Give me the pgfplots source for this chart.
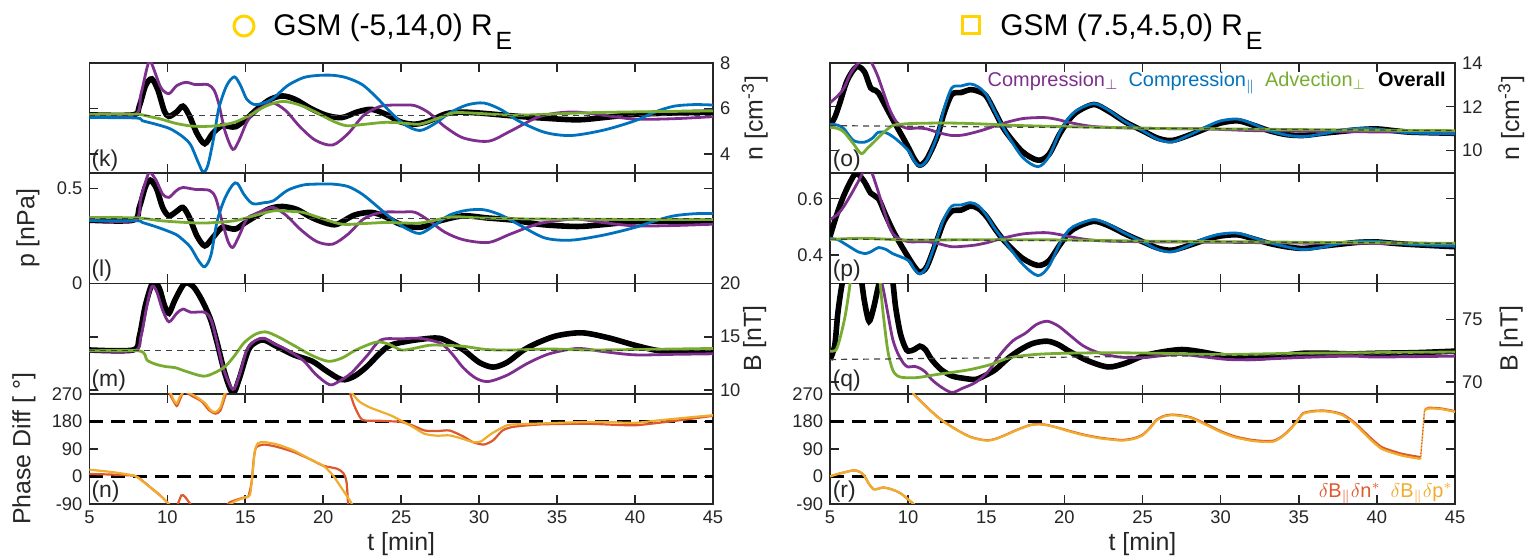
\documentclass[border=0pt]{standalone}
\usepackage{pgfplots}
\pgfplotsset{compat=1.18}
\usepackage{fontspec}
\setmainfont{Liberation Sans}

\definecolor{mpurple}{RGB}{126,47,142}
\definecolor{mblue}{RGB}{0,114,189}
\definecolor{mgreen}{RGB}{119,172,48}
\definecolor{mred}{RGB}{222,88,45}
\definecolor{morange}{RGB}{240,172,45}
\definecolor{myellow}{RGB}{255,212,0}
\definecolor{axgray}{RGB}{38,38,38}

\pgfplotsset{
  panel/.style={scale only axis, height=55.125bp, anchor=south west,
    xmin=5, xmax=45, xtick={5,10,15,20,25,30,35,40,45}, xticklabels={},
    tick align=inside, xtick pos=both, ytick pos=both, major tick length=4.5bp,
    axis line style={line width=0.8bp, draw=axgray},
    tick style={line width=0.8bp, axgray},
    ticklabel style={font=\fontsize{9.2}{10}\selectfont, text=axgray},
    label style={font=\fontsize{12.5}{13}\selectfont, text=axgray}},
  L/.style={panel, width=311.8bp, at={(44.7bp,#1)}},
  R/.style={panel, width=312.5bp, at={(415bp,#1)}},
  bottom/.style={xticklabels={5,10,15,20,25,30,35,40,45}, xlabel={t [min]},
    xlabel style={at={(axis description cs:0.5,-0.36)}, anchor=center}},
  ylab/.style={ylabel style={at={(axis description cs:#1,0.5)}, anchor=center}},
  ref/.style={line width=0.6bp, black!75, dash pattern=on 3bp off 2.5bp},
  pdash/.style={line width=1.2bp, black, dash pattern=on 7bp off 4bp},
  ovr/.style={line width=2.8bp, black, smooth, tension=0.5},
  cmp/.style={line width=1.4bp, smooth, tension=0.5},
  ph/.style={line width=1.1bp, smooth, tension=0.4},
  jump/.style={line width=0.7bp, sharp plot, dash pattern=on 0.8bp off 0.8bp},
}

\begin{document}
\begin{tikzpicture}
\useasboundingbox (0,0) rectangle (766bp,280bp);

%% ---------------- left column: GSM (-5,14,0) ----------------
% (k) density
\begin{axis}[L=193.375bp, ymin=3.15, ymax=8, ytick={4,6,8}, yticklabels={4,6,8},
  yticklabel pos=right, ylabel={n [cm\textsuperscript{-3}]}, ylab=1.067]
\addplot[ovr] coordinates {(5,5.72) (7.8,5.72) (8.2,6.1) (8.6,7.0) (9.0,7.3) (9.4,6.8) (9.8,5.9) (10.1,5.65) (10.6,5.85) (11.0,6.1) (11.4,5.7) (11.9,4.9) (12.4,4.45) (12.9,4.9) (13.5,5.24) (14.0,5.2) (14.4,5.2) (15.0,5.5) (15.8,6.0) (16.6,6.4) (17.4,6.55) (18.2,6.4) (19.2,6.0) (20.2,5.7) (21.2,5.6) (22.2,5.85) (23.1,5.96) (24.0,5.75) (25.0,5.4) (25.9,5.31) (26.8,5.45) (27.8,5.75) (28.7,5.84) (30.0,5.8) (32.2,5.67) (34.0,5.58) (36.3,5.5) (38.0,5.6) (40.0,5.74) (42.5,5.8) (45,5.84)};
\addplot[cmp, mpurple] coordinates {(5,5.72) (7.9,5.72) (8.3,6.6) (8.7,7.8) (8.9,8.1) (9.2,7.6) (9.6,6.9) (10.1,6.65) (10.6,7.0) (11.2,7.15) (11.8,7.05) (12.6,7.05) (13.0,6.8) (13.3,6.2) (13.7,5.0) (14.2,4.2) (14.6,4.6) (15.1,5.4) (15.6,5.85) (16.2,6.1) (16.8,6.24) (17.6,5.9) (18.5,5.2) (19.5,4.6) (20.6,4.39) (21.6,4.9) (22.6,5.7) (23.7,6.1) (25.0,6.15) (25.9,6.12) (26.8,5.8) (27.8,5.2) (29.0,4.7) (30.6,4.56) (32.0,5.0) (33.7,5.6) (35.0,5.8) (36.3,5.84) (38.0,5.7) (40.0,5.53) (42.5,5.55) (45,5.64)};
\addplot[cmp, mblue] coordinates {(5,5.6) (8.0,5.58) (8.4,5.46) (9.3,5.3) (10.2,5.1) (11.0,4.75) (11.5,4.39) (12.0,3.6) (12.3,3.2) (12.6,3.5) (13.0,4.8) (13.3,6.0) (13.8,7.0) (14.3,7.39) (14.7,7.0) (15.1,6.4) (15.6,6.17) (16.2,6.25) (16.8,6.45) (17.7,7.0) (18.7,7.35) (19.6,7.45) (20.6,7.46) (21.5,7.35) (22.5,7.05) (23.4,6.5) (24.3,5.85) (25.2,5.3) (26.2,5.03) (27.2,5.35) (28.1,5.8) (29.2,6.15) (30.3,6.24) (31.4,5.95) (32.5,5.46) (34.2,4.95) (35.9,4.81) (38.0,5.05) (40.0,5.46) (41.3,5.85) (42.5,6.1) (43.8,6.17) (45,6.15)};
\addplot[cmp, mgreen] coordinates {(5,5.74) (8.0,5.74) (8.8,5.65) (9.6,5.53) (10.5,5.35) (11.5,5.23) (12.4,5.21) (13.3,5.25) (14.3,5.39) (15.3,5.7) (16.3,6.1) (17.4,6.31) (18.5,6.15) (19.6,5.81) (20.6,5.45) (21.5,5.24) (22.6,5.3) (24.0,5.39) (25.2,5.35) (26.2,5.31) (27.3,5.55) (28.4,5.81) (30.0,5.78) (32.2,5.7) (34.5,5.75) (36.9,5.81) (40,5.85) (45,5.89)};
\addplot[ref] coordinates {(5,5.7) (45,5.7)};
\end{axis}

% (l) pressure
\begin{axis}[L=138.25bp, ymin=0, ymax=0.58, ytick={0,0.5}, yticklabels={0,0.5},
  ylabel={p [nPa]}, ylab=-0.0985]
\addplot[ovr] coordinates {(5,0.333) (7.8,0.333) (8.2,0.4) (8.6,0.51) (8.9,0.544) (9.3,0.5) (9.7,0.4) (10.1,0.356) (10.6,0.38) (11.0,0.4) (11.4,0.35) (11.9,0.25) (12.4,0.198) (12.9,0.24) (13.5,0.295) (14.0,0.29) (14.4,0.287) (15.0,0.32) (15.8,0.36) (16.6,0.395) (17.4,0.405) (18.3,0.39) (19.3,0.345) (20.3,0.315) (20.9,0.312) (22.0,0.36) (23.1,0.374) (24.0,0.35) (25.0,0.31) (26.2,0.295) (27.5,0.33) (29.0,0.356) (30.5,0.345) (32.2,0.333) (34.0,0.31) (36.3,0.3) (38.0,0.31) (40.0,0.325) (42.5,0.327) (45,0.326)};
\addplot[cmp, mpurple] coordinates {(5,0.333) (7.9,0.333) (8.3,0.45) (8.7,0.56) (8.9,0.585) (9.3,0.54) (9.7,0.47) (10.1,0.453) (10.6,0.49) (11.0,0.505) (11.8,0.495) (12.7,0.49) (13.1,0.45) (13.5,0.33) (13.9,0.22) (14.2,0.19) (14.6,0.25) (15.1,0.34) (15.6,0.365) (16.2,0.385) (16.8,0.4) (17.6,0.36) (18.6,0.28) (19.6,0.22) (20.6,0.207) (21.6,0.26) (22.6,0.34) (23.7,0.374) (25.0,0.376) (25.9,0.374) (26.8,0.33) (27.8,0.27) (29.0,0.23) (30.6,0.216) (32.0,0.26) (33.7,0.312) (35.0,0.33) (36.3,0.339) (38.0,0.32) (40.0,0.303) (42.5,0.305) (45,0.312)};
\addplot[cmp, mblue] coordinates {(5,0.33) (8.0,0.33) (8.4,0.321) (9.4,0.295) (10.5,0.26) (11.0,0.23) (11.5,0.189) (12.0,0.12) (12.4,0.088) (12.8,0.15) (13.2,0.33) (13.7,0.45) (14.2,0.52) (14.5,0.526) (14.9,0.47) (15.3,0.43) (15.6,0.418) (16.2,0.425) (16.8,0.435) (17.7,0.49) (18.7,0.518) (19.6,0.523) (20.6,0.523) (21.6,0.51) (22.5,0.47) (23.4,0.41) (24.3,0.347) (25.2,0.295) (26.2,0.263) (27.2,0.31) (28.1,0.36) (29.2,0.385) (30.3,0.388) (31.4,0.36) (32.5,0.312) (34.2,0.24) (35.9,0.228) (38.0,0.255) (40.0,0.295) (41.3,0.33) (42.5,0.356) (43.8,0.367) (45,0.368)};
\addplot[cmp, mgreen] coordinates {(5,0.347) (8.0,0.345) (9.6,0.33) (11.0,0.322) (12.4,0.318) (14.3,0.33) (15.5,0.355) (16.8,0.382) (17.8,0.38) (18.7,0.374) (19.8,0.345) (21.2,0.312) (22.5,0.315) (24.0,0.321) (25.2,0.318) (26.2,0.318) (27.3,0.335) (28.4,0.351) (30.0,0.345) (33.7,0.339) (40,0.337) (45,0.337)};
\addplot[ref] coordinates {(5,0.342) (45,0.342)};
\end{axis}

% (m) magnetic field
\begin{axis}[L=83.125bp, ymin=9.65, ymax=20, ytick={10,15,20}, yticklabels={10,15,20},
  yticklabel pos=right, ylabel={B [nT]}, ylab=1.067]
\addplot[ovr] coordinates {(5,13.76) (7.8,13.76) (8.2,15.0) (8.6,18.0) (9.1,20.2) (9.5,19.5) (9.8,18.0) (10.1,17.2) (10.5,18.5) (11.1,20.0) (11.6,19.8) (12.0,19.0) (12.4,17.9) (12.8,16.5) (13.2,14.4) (13.7,11.5) (14.2,9.7) (14.6,11.0) (15.2,13.76) (15.7,14.5) (16.2,14.7) (17.0,14.1) (18.1,13.3) (19.3,12.7) (20.2,11.8) (21.2,10.97) (22.0,11.3) (22.8,12.2) (23.6,13.4) (24.3,14.2) (25.5,14.6) (26.8,14.85) (27.5,14.85) (28.2,14.4) (29.0,13.76) (30.0,12.6) (30.9,12.15) (31.8,12.6) (32.8,13.7) (33.7,14.4) (35.0,15.1) (36.6,15.37) (38.3,14.9) (40.0,14.2) (41.5,13.7) (43.1,13.6) (45,13.6)};
\addplot[cmp, mpurple] coordinates {(5,13.7) (7.9,13.7) (8.3,15.0) (8.7,18.0) (9.0,19.7) (9.3,19.3) (9.7,17.5) (10.1,16.4) (10.6,17.2) (11.0,17.6) (11.5,17.3) (12.4,17.3) (12.8,16.6) (13.1,15.0) (13.6,12.0) (14.2,10.05) (14.6,11.3) (15.1,13.76) (15.6,14.6) (16.2,14.85) (16.9,14.3) (17.5,13.9) (18.7,12.8) (19.5,11.5) (20.4,10.5) (21.0,10.8) (21.8,11.6) (22.8,13.2) (23.7,14.7) (25.0,14.8) (26.2,14.85) (27.5,14.4) (28.2,13.5) (29.0,12.06) (29.8,11.1) (30.6,10.8) (31.8,11.4) (33.1,12.5) (34.5,13.4) (36.3,13.9) (38.0,13.6) (40,13.3) (42.5,13.35) (45,13.4)};
\addplot[cmp, mgreen] coordinates {(5,13.67) (8.2,13.67) (8.7,12.8) (9.3,12.4) (9.9,12.2) (10.5,12.1) (11.2,11.75) (12.3,11.3) (13.0,11.6) (13.7,12.2) (14.3,13.2) (14.9,14.4) (15.6,15.2) (16.3,15.46) (17.1,15.0) (18.1,14.2) (19.2,13.3) (20.3,12.7) (21.2,13.0) (22.1,13.76) (23.4,14.5) (24.2,14.3) (25.0,13.76) (25.8,13.9) (26.8,14.2) (27.8,14.2) (29.0,14.1) (30.5,13.8) (32.2,13.76) (34.5,13.85) (36.9,13.76) (40,13.8) (45,13.9)};
\addplot[ref] coordinates {(5,13.7) (45,13.7)};
\end{axis}

% (n) phase difference
\begin{axis}[L=28bp, bottom, ymin=-90, ymax=270, ytick={-90,0,90,180,270},
  yticklabels={-90,0,90,180,270}, ylabel={Phase Diff [ °]}, ylab=-0.105]
\addplot[pdash] coordinates {(5,0) (45,0)};
\addplot[pdash] coordinates {(5,180) (45,180)};
% delta B_par delta n*
\addplot[ph, mred] coordinates {(5,8) (6.5,6) (7.9,2) (8.3,-10) (8.9,-35) (9.5,-60) (9.9,-80) (10.3,-100)};
\addplot[ph, mred] coordinates {(10.6,-100) (10.9,-62) (11.1,-65) (11.4,-85) (11.6,-100)};
\addplot[ph, mred] coordinates {(10.1,275) (10.3,255) (10.6,230) (10.8,250) (11.0,275)};
\addplot[ph, mred] coordinates {(11.2,275) (11.6,262) (12.2,245) (12.7,215) (13.1,205) (13.4,215) (13.7,260) (13.8,275)};
\addplot[ph, mred] coordinates {(13.7,-100) (14.0,-85) (14.5,-75) (15.0,-68) (15.2,-65) (15.4,-20) (15.55,60) (15.7,95) (16.2,104) (17.0,97) (18.1,80) (19.2,55) (20.0,35) (20.9,25) (21.3,10) (21.5,-20) (21.6,-100)};
\addplot[ph, mred] coordinates {(21.7,275) (22.0,230) (22.5,185) (23.5,182) (24.3,180) (25.0,178) (25.8,165) (26.5,150) (27.3,148) (28.1,150) (29.0,130) (29.6,112) (30.3,104) (30.9,118) (31.5,150) (32.2,162) (34.0,170) (36.9,172) (38.5,169) (40.0,167) (41.5,175) (43.1,185) (45,198)};
% delta B_par delta p*
\addplot[ph, morange] coordinates {(5,22) (6.5,14) (7.9,2) (8.4,-15) (9.0,-40) (9.6,-65) (10.0,-85) (10.2,-100)};
\addplot[ph, morange] coordinates {(10.2,275) (10.4,250) (10.6,238) (10.8,260) (11.0,275)};
\addplot[ph, morange] coordinates {(11.3,275) (11.8,262) (12.4,240) (12.8,215) (13.1,210) (13.4,225) (13.7,275)};
\addplot[ph, morange] coordinates {(13.8,-100) (14.3,-82) (15.0,-68) (15.3,-60) (15.45,0) (15.6,80) (15.8,108) (16.2,112) (17.0,105) (18.1,85) (19.2,55) (20.0,35) (20.6,5) (21.2,-40) (21.8,-86) (21.9,-100)};
\addplot[ph, morange] coordinates {(21.8,275) (22.3,245) (23.0,225) (24.3,200) (25.0,182) (25.8,160) (26.5,139) (27.3,133) (28.1,134) (29.0,122) (29.6,112) (30.1,114) (30.8,140) (31.5,160) (32.0,169) (34.0,173) (36.9,178) (38.5,177) (40.0,175) (41.5,183) (43.1,191) (45,200)};
\end{axis}

%% ---------------- right column: GSM (7.5,4.5,0) ----------------
% (o) density
\begin{axis}[R=193.375bp, ymin=8.95, ymax=14, ytick={10,12,14}, yticklabels={10,12,14},
  yticklabel pos=right, ylabel={n [cm\textsuperscript{-3}]}, ylab=1.09]
\addplot[ovr] coordinates {(5,11.13) (5.3,11.5) (5.6,12.1) (6.1,13.2) (6.7,13.83) (7.2,13.6) (7.6,12.86) (7.9,12.75) (8.1,12.63) (8.5,12.1) (9.0,11.43) (9.5,10.8) (10.0,10.15) (10.4,9.6) (10.75,9.32) (11.2,9.6) (11.85,10.6) (12.3,11.7) (12.8,12.56) (13.4,12.65) (14.0,12.78) (14.5,12.7) (15.0,12.48) (15.6,11.7) (16.2,10.9) (17.3,9.95) (18.3,9.55) (19.0,9.8) (19.7,10.75) (20.3,11.4) (20.9,11.8) (21.9,12.1) (22.8,11.8) (23.9,11.3) (25.0,10.9) (26.0,10.55) (26.9,10.45) (28.0,10.7) (29.0,10.98) (30.0,11.25) (31.1,11.35) (32.1,11.15) (33.1,10.9) (34.2,10.72) (35.3,10.68) (36.5,10.78) (37.8,10.87) (38.9,10.95) (40.0,10.98) (41.1,10.9) (42.2,10.83) (45,10.78)};
\addplot[cmp, mpurple] coordinates {(5,12.18) (5.5,12.5) (5.9,12.86) (6.3,13.5) (6.7,13.9) (7.1,14.2) (7.5,14.2) (8.0,13.5) (8.4,12.7) (8.8,11.9) (9.2,11.35) (9.6,11.1) (10.0,11.0) (10.6,11.02) (11.2,10.98) (12.0,10.8) (12.8,10.68) (13.5,10.7) (14.3,10.83) (15.1,11.0) (15.9,11.2) (17.3,11.45) (18.7,11.5) (19.5,11.42) (20.3,11.28) (21.5,11.12) (22.8,11.05) (25.9,11.0) (29,10.98) (32.2,10.9) (35,10.88) (38.4,10.85) (45,10.83)};
\addplot[cmp, mblue] coordinates {(5,11.2) (5.5,11.15) (5.9,10.98) (6.5,10.45) (7.2,10.37) (7.7,10.55) (8.1,10.83) (8.6,10.8) (9.2,10.53) (10.0,10.0) (10.4,9.5) (10.75,9.28) (11.2,9.55) (11.85,10.65) (12.3,11.9) (12.8,12.86) (13.4,12.95) (14.0,13.04) (14.5,12.9) (15.0,12.55) (15.6,11.7) (16.2,10.9) (17.3,9.7) (18.3,9.25) (19.0,9.7) (19.7,10.83) (20.3,11.5) (20.9,11.88) (21.9,12.14) (22.8,11.85) (23.9,11.3) (25.0,10.9) (26.0,10.5) (26.9,10.38) (28.0,10.7) (29.0,11.05) (30.0,11.35) (31.1,11.43) (32.1,11.2) (33.1,10.9) (34.2,10.7) (35.3,10.63) (36.5,10.75) (37.8,10.93) (38.9,11.0) (40.0,10.98) (41.1,10.88) (42.2,10.8) (45,10.75)};
\addplot[cmp, mgreen] coordinates {(5,11.05) (5.5,11.0) (5.9,10.83) (6.5,10.3) (7.0,9.85) (7.4,10.1) (7.8,10.37) (8.4,10.8) (9.0,11.13) (9.6,11.2) (10.3,11.23) (12,11.25) (13.4,11.24) (15,11.2) (16.5,11.15) (19,11.1) (22.8,11.05) (26,11.0) (30,10.98) (35,10.95) (40,10.92) (45,10.9)};
\addplot[ref] coordinates {(5,11.13) (45,10.9)};
\end{axis}

% (p) pressure
\begin{axis}[R=138.25bp, ymin=0.3, ymax=0.69, ytick={0.4,0.6}, yticklabels={0.4,0.6}]
\addplot[ovr] coordinates {(5,0.466) (5.4,0.538) (5.8,0.6) (6.3,0.66) (6.7,0.69) (7.2,0.66) (7.6,0.62) (8.1,0.6) (8.5,0.55) (9.0,0.49) (9.5,0.44) (10.0,0.394) (10.4,0.36) (10.75,0.34) (11.2,0.36) (11.85,0.454) (12.3,0.52) (12.8,0.556) (13.4,0.56) (14.0,0.574) (14.5,0.565) (15.0,0.538) (15.6,0.49) (16.2,0.448) (17.3,0.39) (18.3,0.364) (19.0,0.38) (19.7,0.436) (20.3,0.48) (20.9,0.502) (21.9,0.52) (22.8,0.505) (23.9,0.475) (25.0,0.448) (26.0,0.425) (26.9,0.418) (28.0,0.435) (29.0,0.454) (30.0,0.468) (31.1,0.472) (32.1,0.458) (33.1,0.442) (34.2,0.43) (35.3,0.424) (36.5,0.432) (37.8,0.44) (38.9,0.446) (40.0,0.447) (41.1,0.442) (42.2,0.438) (45,0.43)};
\addplot[cmp, mpurple] coordinates {(5,0.526) (5.5,0.545) (5.9,0.574) (6.4,0.62) (6.8,0.66) (7.2,0.7) (7.6,0.7) (8.0,0.64) (8.4,0.568) (8.8,0.5) (9.2,0.466) (10,0.448) (11.2,0.448) (12.0,0.44) (12.8,0.43) (13.6,0.432) (14.3,0.436) (15.1,0.445) (15.9,0.458) (17.3,0.475) (18.7,0.48) (19.5,0.475) (20.3,0.466) (21.5,0.455) (22.8,0.45) (26,0.447) (30,0.446) (35,0.443) (40,0.442) (45,0.44)};
\addplot[cmp, mblue] coordinates {(5,0.46) (5.5,0.455) (5.9,0.442) (6.4,0.425) (6.8,0.412) (7.3,0.406) (7.7,0.415) (8.1,0.427) (8.6,0.42) (9.0,0.406) (10.0,0.382) (10.4,0.35) (10.75,0.334) (11.2,0.36) (11.85,0.46) (12.3,0.53) (12.8,0.574) (13.4,0.578) (14.0,0.586) (14.5,0.575) (15.0,0.542) (15.6,0.49) (16.2,0.448) (17.3,0.37) (18.3,0.328) (19.0,0.36) (19.7,0.44) (20.3,0.49) (20.9,0.51) (21.9,0.526) (22.8,0.51) (23.9,0.477) (25.0,0.448) (26.0,0.42) (26.9,0.412) (28.0,0.435) (29.0,0.46) (30.0,0.475) (31.1,0.478) (32.1,0.462) (33.1,0.445) (34.2,0.43) (35.3,0.42) (36.5,0.428) (37.8,0.443) (38.9,0.45) (40.0,0.449) (41.1,0.443) (42.2,0.438) (45,0.432)};
\addplot[cmp, mgreen] coordinates {(5,0.456) (7.2,0.46) (10,0.454) (15,0.455) (20,0.454) (25,0.45) (30,0.448) (35,0.446) (40,0.444) (45,0.442)};
\addplot[ref] coordinates {(5,0.457) (45,0.442)};
\end{axis}

% (q) magnetic field
\begin{axis}[R=83.125bp, ymin=69.05, ymax=77.9, ytick={70,75}, yticklabels={70,75},
  yticklabel pos=right, ylabel={B [nT]}, ylab=1.09]
\addplot[ovr] coordinates {(5,71.8) (5.3,72.9) (5.5,75.5) (5.75,77.7) (6.0,79) (6.5,80) (6.9,79) (7.2,76.5) (7.5,74.87) (7.8,76) (8.1,77.7) (8.4,79) (8.9,79) (9.2,76) (9.5,73.9) (9.8,72.8) (10.0,72.47) (10.4,72.6) (10.75,72.87) (11.1,72.6) (11.5,71.8) (12.1,71.0) (12.8,70.48) (13.5,70.3) (14.3,70.2) (14.9,70.5) (15.6,71.0) (16.4,71.9) (17.2,72.6) (18.0,73.1) (18.9,73.27) (19.6,73.0) (20.3,72.47) (21.5,71.7) (22.8,71.2) (23.9,71.5) (25.0,72.07) (26.2,72.4) (27.5,72.6) (28.6,72.45) (29.7,72.2) (31.0,71.95) (32.2,71.9) (33.8,72.1) (35.3,72.3) (36.8,72.3) (38.4,72.25) (40,72.3) (42.5,72.35) (45,72.47)};
\addplot[cmp, mpurple] coordinates {(7.8,80) (8.1,79) (8.4,77.5) (8.7,75.5) (9.0,73.5) (9.3,72.4) (9.7,71.5) (10.0,71.2) (10.4,71.25) (10.75,71.1) (11.1,70.8) (11.5,70.2) (12.1,69.6) (12.8,69.15) (13.5,69.5) (14.3,69.95) (15.1,70.8) (15.9,72.2) (16.7,73.3) (17.5,73.9) (18.2,74.6) (18.9,74.87) (19.6,74.5) (20.3,73.8) (21.2,72.9) (22.2,72.34) (23.5,72.0) (25.0,71.94) (26.2,72.1) (27.5,72.2) (29,72.0) (30.5,71.8) (32.2,71.8) (34,71.9) (36,72.0) (38.4,72.07) (40,72.0) (45,72.07)};
\addplot[cmp, mgreen] coordinates {(5,72.47) (5.4,72.6) (5.7,73.8) (6.0,75.5) (6.3,78) (6.5,80) (8.0,80) (8.2,78) (8.4,75.5) (8.7,72.5) (9.0,71.0) (9.3,70.5) (9.7,70.35) (10.6,70.35) (11.85,70.6) (13.0,70.8) (14.0,71.0) (15.3,71.4) (16.5,71.94) (18.1,72.2) (20,72.3) (22.8,72.34) (26,72.3) (30,72.2) (35,72.3) (40,72.35) (45,72.4)};
\addplot[ref] coordinates {(5,71.8) (45,72.3)};
\end{axis}

% (r) phase difference
\begin{axis}[R=28bp, bottom, ymin=-90, ymax=270, ytick={-90,0,90,180,270},
  yticklabels={-90,0,90,180,270}]
\addplot[pdash] coordinates {(5,0) (45,0)};
\addplot[pdash] coordinates {(5,180) (45,180)};
% delta B_par delta n*
\addplot[ph, mred] coordinates {(5,0) (5.5,8) (5.9,13) (6.4,19) (6.7,19) (7.0,12) (7.2,2) (7.5,-25) (7.8,-42) (8.1,-40) (8.4,-36) (8.8,-40) (9.2,-47) (9.6,-58) (10.0,-75) (10.4,-92)};
\addplot[ph, mred] coordinates {(10.3,272) (10.8,246) (11.5,212) (12.1,186) (12.8,162) (13.4,144) (14.0,129) (14.6,121) (15.1,118) (15.6,123) (16.2,135) (17.0,153) (17.8,168) (18.4,171) (18.9,168) (19.6,159) (20.3,149) (21.2,137) (22.2,127) (23.0,122) (23.7,119) (24.4,124) (25.0,136) (25.5,160) (25.9,185) (26.4,198) (26.9,202) (27.5,199) (28.1,193) (29.0,173) (30.0,148) (30.9,131) (31.9,120) (32.7,116) (33.4,117) (33.9,130) (34.4,152) (34.9,182) (35.3,207) (36.0,214) (36.6,215) (37.2,211) (37.8,203) (38.5,179) (39.1,150) (39.7,121) (40.3,96) (41.0,83) (41.6,74) (42.2,68) (42.8,63)};
\addplot[jump, mred] coordinates {(42.8,63) (43.05,216)};
\addplot[ph, mred] coordinates {(43.05,216) (43.3,224) (44.1,222) (45,213)};
% delta B_par delta p*
\addplot[ph, morange] coordinates {(5,0) (5.5,8) (5.9,13) (6.4,19) (6.7,19) (7.0,12) (7.2,2) (7.5,-25) (7.8,-42) (8.1,-40) (8.4,-36) (8.8,-40) (9.2,-47) (9.6,-58) (10.0,-75) (10.4,-92)};
\addplot[ph, morange] coordinates {(10.3,272) (10.8,245) (11.5,211) (12.1,185) (12.8,161) (13.4,143) (14.0,128) (14.6,120) (15.1,117) (15.6,122) (16.2,134) (17.0,152) (17.8,167) (18.4,170) (18.9,167) (19.6,158) (20.3,147) (21.2,135) (22.2,125) (23.0,120) (23.7,117) (24.4,122) (25.0,134) (25.5,158) (25.9,183) (26.4,196) (26.9,200) (27.5,197) (28.1,191) (29.0,170) (30.0,145) (30.9,128) (31.9,117) (32.7,113) (33.4,114) (33.9,128) (34.4,150) (34.9,180) (35.3,205) (36.0,212) (36.6,213) (37.2,209) (37.8,200) (38.5,175) (39.1,145) (39.7,115) (40.3,90) (41.0,77) (41.6,68) (42.2,62) (42.8,57)};
\addplot[jump, morange] coordinates {(42.8,57) (43.05,215)};
\addplot[ph, morange] coordinates {(43.05,215) (43.3,222) (44.1,220) (45,211)};
\end{axis}

%% ---------------- titles, panel tags, legends ----------------
\draw[line width=1.5bp, myellow] (122bp,267bp) circle (5bp);
\node[anchor=base west, inner sep=0, font=\fontsize{15}{15}\selectfont]
  at (136.5bp,262bp) {GSM (-5,14,0) R\kern1.5bp\raisebox{-7bp}{\fontsize{12.5}{12.5}\selectfont E}};
\draw[line width=1.5bp, myellow] (481.25bp,263bp) rectangle (489.75bp,271.5bp);
\node[anchor=base west, inner sep=0, font=\fontsize{15}{15}\selectfont]
  at (500bp,262bp) {GSM (7.5,4.5,0) R\kern1.5bp\raisebox{-7bp}{\fontsize{12.5}{12.5}\selectfont E}};

\begin{scope}[every node/.style={anchor=base west, inner sep=0, font=\fontsize{11.5}{12}\selectfont, text=axgray}]
\node at (45.6bp,196.9bp) {(k)};
\node at (45.6bp,141.75bp) {(l)};
\node at (45.6bp,86.6bp) {(m)};
\node at (45.6bp,31.5bp) {(n)};
\node at (416.2bp,196.9bp) {(o)};
\node at (416.2bp,141.75bp) {(p)};
\node at (416.2bp,86.6bp) {(q)};
\node at (416.2bp,31.5bp) {(r)};
\end{scope}

\node[anchor=base east, inner sep=0, font=\fontsize{10}{10}\selectfont] at (723bp,236.5bp)
  {{\color{mpurple}Compression$_{\perp}$}\hspace{5bp}{\color{mblue}Compression$_{\|}$}\hspace{5bp}{\color{mgreen}Advection$_{\perp}$}\hspace{6bp}\textbf{Overall}};
\node[anchor=base east, inner sep=0, font=\fontsize{10}{10}\selectfont] at (726.5bp,31.5bp)
  {{\color{mred}$\delta$B$_{\|}\delta$n$^{*}$}\hspace{5bp}{\color{morange}$\delta$B$_{\|}\delta$p$^{*}$}};
\end{tikzpicture}
\end{document}
